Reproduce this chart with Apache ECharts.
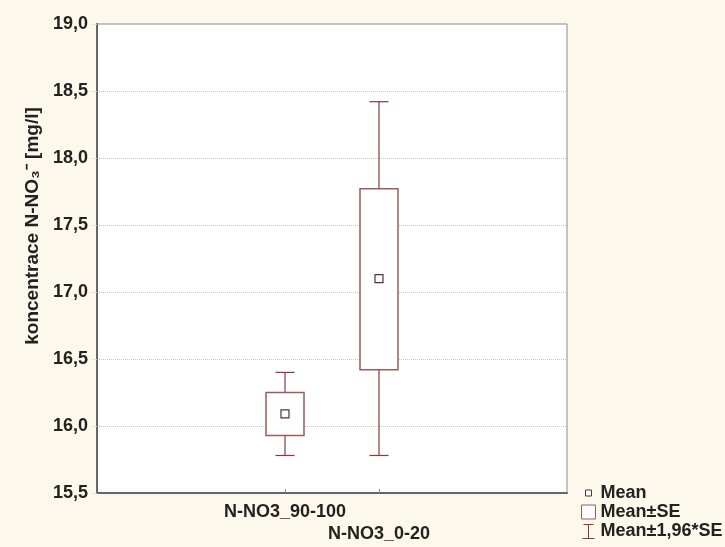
<!DOCTYPE html>
<html>
<head>
<meta charset="utf-8">
<script src="https://cdn.jsdelivr.net/npm/echarts@6/dist/echarts.min.js"></script>
<style>
  html, body { margin: 0; padding: 0; background: #fdf8ec; }
  #chart { width: 725px; height: 547px; }
</style>
</head>
<body>
<div id="chart"></div>
<script>
// Groups and their positions on the x scale
const categories = ['N-NO3_90-100', 'N-NO3_0-20'];
const positions = [2, 3];

// Mean, mean ± SE and mean ± 1,96*SE for each group [mg/l]
const means = [16.09, 17.10];
const seLower = [15.93, 16.42];
const seUpper = [16.25, 17.77];
const ciLower = [15.78, 15.78];
const ciUpper = [16.40, 18.42];

const legendNames = ['Mean', 'Mean±SE', 'Mean±1,96*SE'];

const FONT = 'Liberation Sans, Arial, sans-serif';
const LINE = '#8a3a3a';
const BOX = '#9c5c5c';

const whiskerData = positions.map((p, i) => [p, ciLower[i], ciUpper[i]]);
const boxData = positions.map((p, i) => [p, seLower[i], seUpper[i]]);
const meanData = positions.map((p, i) => [p, means[i]]);

// Category labels alternate between two rows; each row is its own x axis
function rowAxis(row, show) {
  const rowValues = positions.filter((p, i) => i % 2 === row);
  return {
    type: 'value', min: 0, max: 5, interval: 1, position: 'bottom',
    axisLine: { show: show, onZero: false, lineStyle: { color: '#666666', width: 2 } },
    axisTick: { show: show, inside: true, length: 4, customValues: positions,
      lineStyle: { color: '#888888' } },
    splitLine: { show: false },
    axisLabel: {
      customValues: rowValues,
      margin: 10 + row * 22,
      fontFamily: FONT, fontWeight: 'bold', fontSize: 18, color: '#222',
      formatter: v => categories[positions.indexOf(v)] || ''
    }
  };
}

const chart = echarts.init(document.getElementById('chart'));

chart.setOption({
  backgroundColor: '#fdf8ec',
  animation: false,
  grid: {
    left: 97, top: 24, width: 470, height: 469,
    show: true, backgroundColor: '#ffffff',
    borderColor: '#8c8c8c', borderWidth: 1
  },
  xAxis: [rowAxis(0, true), rowAxis(1, false)],
  yAxis: {
    type: 'value', min: 15.5, max: 19, interval: 0.5,
    axisLine: { show: true, lineStyle: { color: '#666666', width: 2 } },
    axisTick: { show: true, length: 6, lineStyle: { color: '#cccccc', type: 'dotted' } },
    splitLine: { show: true, lineStyle: { color: '#c4c4c4', type: 'dotted', width: 1 } },
    axisLabel: {
      margin: 9,
      fontFamily: FONT, fontWeight: 'bold', fontSize: 18, color: '#222',
      formatter: v => v.toFixed(1).replace('.', ',')
    }
  },
  legend: {
    orient: 'vertical', left: 575, top: 479,
    itemWidth: 14, itemHeight: 14, itemGap: 1,
    textStyle: { fontFamily: FONT, fontWeight: 'bold', fontSize: 18, lineHeight: 16, color: '#222' },
    data: [
      { name: legendNames[0], icon: 'path://M0,0M14,14M4,4L10,4L10,10L4,10Z',
        itemStyle: { color: '#ffffff', borderColor: '#5a3030', borderWidth: 1 } },
      { name: legendNames[1], icon: 'path://M0,0L14,0L14,14L0,14Z',
        itemStyle: { color: '#ffffff', borderColor: BOX, borderWidth: 1 } },
      { name: legendNames[2], icon: 'path://M2,0L12,0M7,0L7,14M1,14L13,14',
        itemStyle: { color: 'none', borderColor: LINE, borderWidth: 1 } }
    ]
  },
  series: [
    {
      name: legendNames[2],
      type: 'custom',
      data: whiskerData,
      renderItem: (params, api) => {
        const x = api.coord([api.value(0), api.value(1)])[0];
        const yLo = api.coord([api.value(0), api.value(1)])[1];
        const yHi = api.coord([api.value(0), api.value(2)])[1];
        const half = 9.5;
        const style = { stroke: LINE, lineWidth: 1.2, fill: null };
        return {
          type: 'group',
          children: [
            { type: 'line', shape: { x1: x, y1: yLo, x2: x, y2: yHi }, style },
            { type: 'line', shape: { x1: x - half, y1: yHi, x2: x + half, y2: yHi }, style },
            { type: 'line', shape: { x1: x - half, y1: yLo, x2: x + half, y2: yLo }, style }
          ]
        };
      },
      z: 2
    },
    {
      name: legendNames[1],
      type: 'custom',
      data: boxData,
      renderItem: (params, api) => {
        const x = api.coord([api.value(0), api.value(1)])[0];
        const yLo = api.coord([api.value(0), api.value(1)])[1];
        const yHi = api.coord([api.value(0), api.value(2)])[1];
        const half = 19;
        return {
          type: 'rect',
          shape: { x: x - half, y: yHi, width: half * 2, height: yLo - yHi },
          style: { fill: '#ffffff', stroke: BOX, lineWidth: 1.5 }
        };
      },
      z: 3
    },
    {
      name: legendNames[0],
      type: 'scatter',
      data: meanData,
      symbol: 'rect',
      symbolSize: 8,
      itemStyle: { color: '#ffffff', borderColor: '#5a3030', borderWidth: 1.2, opacity: 1 },
      z: 4
    }
  ],
  graphic: [
    {
      type: 'text',
      x: 33, y: 226,
      rotation: Math.PI / 2,
      style: {
        text: 'koncentrace N-NO₃⁻ [mg/l]',
        fontFamily: FONT, fontWeight: 'bold', fontSize: 19, fill: '#222',
        align: 'center', verticalAlign: 'middle'
      }
    }
  ]
});
</script>
</body>
</html>
